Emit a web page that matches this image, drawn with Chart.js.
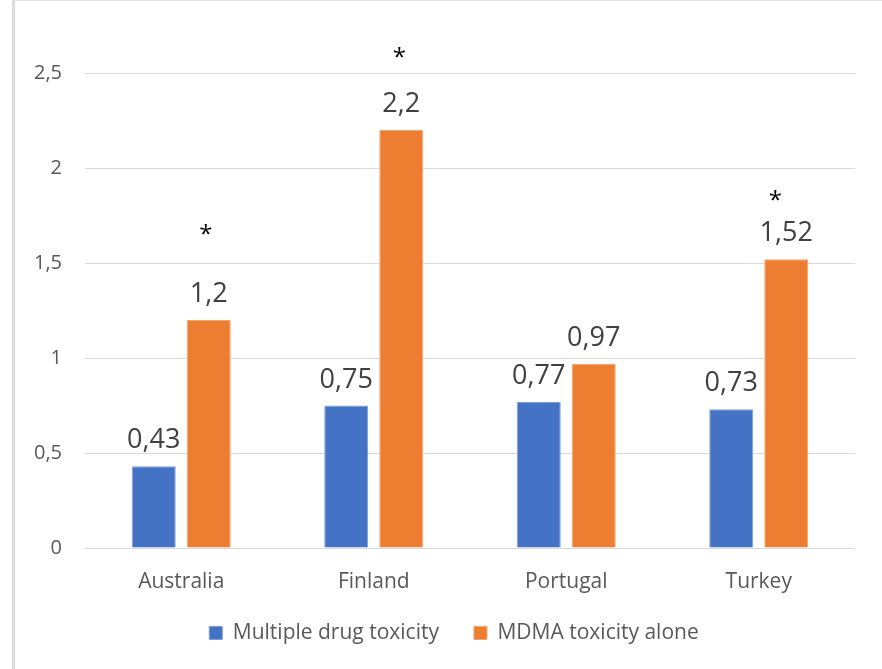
<!DOCTYPE html>
<html>
<head>
<meta charset="utf-8">
<script src="https://cdn.jsdelivr.net/npm/chart.js@4/dist/chart.umd.min.js"></script>
<style>
  html, body { margin: 0; padding: 0; background: #ffffff; }
  #frame {
    position: absolute; left: 0; top: 0; width: 882px; height: 669px;
    overflow: hidden; background: #ffffff;
  }
  #frame::before {
    content: ""; position: absolute; left: 12px; top: 0; width: 3px; height: 669px;
    background: #dcdcdc;
  }
  #frame::after {
    content: ""; position: absolute; left: 15px; top: 0; right: 0; height: 1px;
    background: #e2e2e2;
  }
  #chart { position: absolute; left: 0; top: 0; }
</style>
</head>
<body>
<div id="frame"><canvas id="chart" width="882" height="669"></canvas></div>
<script>
// Countries compared
const countries = ['Australia', 'Finland', 'Portugal', 'Turkey'];

// Series values
const multipleDrug = [0.43, 0.75, 0.77, 0.73];
const mdmaAlone = [1.2, 2.2, 0.97, 1.52];

// Value axis labels (decimal comma)
const yTickLabels = ['0', '0,5', '1', '1,5', '2', '2,5'];

// Significance marks over the MDMA bars
const significant = [true, true, false, true];

const seriesNames = ['Multiple drug toxicity', 'MDMA toxicity alone'];

const fmt = v => String(v).replace('.', ',');

// Value labels above every bar, plus asterisks over the significant MDMA bars
const barLabels = {
  id: 'barLabels',
  afterDatasetsDraw(chart, args, opts) {
    const ctx = chart.ctx;
    ctx.save();
    ctx.textAlign = 'center';
    ctx.textBaseline = 'alphabetic';
    chart.data.datasets.forEach((ds, di) => {
      const meta = chart.getDatasetMeta(di);
      meta.data.forEach((bar, i) => {
        ctx.font = '27px "Open Sans"';
        ctx.fillStyle = '#404040';
        ctx.fillText(fmt(ds.data[i]), bar.x, bar.y - 18);
        if (di === 1 && significant[i]) {
          ctx.font = '24px "Open Sans"';
          ctx.fillStyle = '#000000';
          ctx.fillText('*', bar.x + opts.starShiftX[i], bar.y - opts.starLift[i] + 13);
        }
      });
    });
    ctx.restore();
  }
};

// Nudge the legend row to sit centred under the whole frame
const legendShift = {
  id: 'legendShift',
  afterLayout(chart, args, opts) {
    const lg = chart.legend;
    if (lg) {
      lg.left += opts.dx;
      lg.right += opts.dx;
      lg.top += opts.dy;
      lg.bottom += opts.dy;
    }
  }
};

new Chart(document.getElementById('chart'), {
  type: 'bar',
  data: {
    labels: countries,
    datasets: [
      {
        label: seriesNames[0],
        data: multipleDrug,
        backgroundColor: '#4472c4',
        borderColor: '#7e9dd6',
        borderWidth: 1
      },
      {
        label: seriesNames[1],
        data: mdmaAlone,
        backgroundColor: '#ed7d31',
        borderColor: '#f2a46e',
        borderWidth: 1
      }
    ]
  },
  options: {
    responsive: false,
    animation: false,
    maintainAspectRatio: false,
    datasets: {
      bar: { categoryPercentage: 0.5714, barPercentage: 0.8 }
    },
    layout: { padding: { left: 15, right: 27, top: 73, bottom: 3 } },
    scales: {
      x: {
        grid: { display: false, drawTicks: false },
        border: { display: false },
        ticks: {
          color: '#595959',
          font: { family: '"Open Sans"', size: 21 },
          padding: 21
        },
        afterFit(scale) { scale.height = 52; }
      },
      y: {
        min: 0,
        max: 2.5,
        grid: { color: '#d9d9d9', lineWidth: 1, drawTicks: false },
        border: { display: false },
        ticks: {
          stepSize: 0.5,
          color: '#595959',
          font: { family: '"Open Sans"', size: 20 },
          padding: 23,
          callback: (v, idx) => yTickLabels[idx]
        },
        afterFit(scale) { scale.width = 70; }
      }
    },
    plugins: {
      legend: {
        position: 'bottom',
        labels: {
          boxWidth: 13,
          boxHeight: 13,
          padding: 35,
          color: '#595959',
          font: { family: '"Open Sans"', size: 21 }
        }
      },
      tooltip: { enabled: false },
      legendShift: { dx: 19, dy: -12.5 },
      barLabels: {
        starLift: [91, 78, 0, 64],
        starShiftX: [-3, -2, 0, -11]
      }
    }
  },
  plugins: [barLabels, legendShift]
});
</script>
</body>
</html>
